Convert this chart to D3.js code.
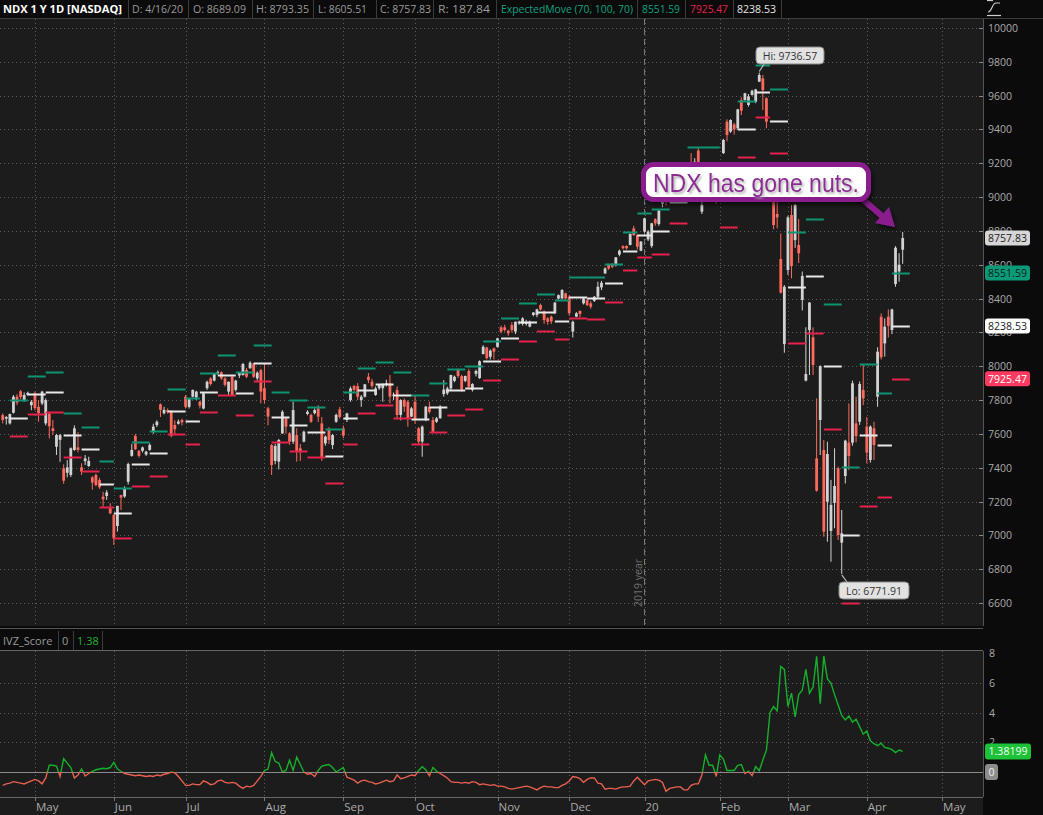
<!DOCTYPE html>
<html>
<head>
<meta charset="utf-8">
<script src="https://cdn.jsdelivr.net/npm/d3@7"></script>
<style>
body { margin: 0; background: #0b0b0b; }
svg { display: block; }
</style>
</head>
<body>
<div id="container"></div>
<script>
// daily NDX bars, Apr 17 2019 .. Apr 16 2020 : [open, high, low, close]
var ohlc = [
[7711,7721,7662,7682],[7690,7705,7655,7700],[7662,7720,7655,7717],[7725,7830,7720,7820],[7820,7835,7770,7785],
[7852,7860,7805,7818],[7800,7845,7790,7830],[7830,7850,7825,7843],[7770,7800,7740,7790],
// May
[7840,7850,7740,7752],[7760,7800,7672,7722],[7780,7855,7770,7850],[7662,7810,7650,7800],[7720,7730,7573,7645],
[7633,7682,7594,7617],[7524,7600,7475,7593],[7565,7600,7435,7593],[7396,7420,7305,7323],[7370,7445,7343,7402],
[7357,7520,7345,7515],[7505,7650,7500,7633],[7520,7610,7490,7505],[7402,7426,7357,7376],[7439,7475,7416,7455],
[7410,7465,7405,7440],[7343,7350,7270,7312],[7357,7365,7290,7298],[7327,7340,7275,7284],[7229,7258,7170,7213],
[7233,7268,7210,7254],[7160,7190,7125,7130],
// Jun
[7120,7125,6943,6982],[7055,7175,7022,7174],[7238,7240,7150,7223],[7230,7290,7222,7278],[7317,7430,7300,7422],
[7470,7540,7465,7505],[7588,7600,7505,7509],[7500,7505,7460,7470],[7500,7525,7490,7520],[7478,7500,7470,7495],
[7505,7545,7500,7535],[7613,7660,7600,7643],[7652,7680,7640,7672],[7775,7780,7700,7742],[7722,7760,7715,7742],
[7740,7750,7720,7730],[7731,7740,7580,7588],[7653,7680,7600,7627],[7660,7685,7655,7673],[7682,7690,7650,7668],
// Jul
[7820,7830,7750,7760],[7760,7810,7750,7805],[7820,7862,7815,7860],[7815,7855,7800,7850],[7790,7795,7750,7767],
[7750,7845,7745,7840],[7870,7915,7860,7908],[7928,7935,7885,7895],[7915,7960,7910,7955],[7960,7975,7950,7965],
[7964,7970,7920,7928],[7928,7935,7880,7890],[7850,7910,7830,7908],[7938,7945,7825,7830],[7860,7920,7850,7915],
[7945,7965,7930,7960],[7948,8020,7945,8013],[7978,7990,7930,7938],[7988,8030,7985,8021],[8017,8020,7930,7938],
[7928,7970,7915,7962],[7977,7985,7780,7850],
// Aug
[7870,8017,7780,7800],[7751,7760,7650,7702],[7534,7540,7357,7416],[7440,7540,7420,7528],[7436,7570,7390,7564],
[7603,7740,7600,7731],[7692,7700,7600,7643],[7603,7610,7535,7554],[7554,7790,7540,7741],[7593,7633,7436,7495],
[7515,7540,7440,7495],[7554,7620,7550,7613],[7718,7740,7710,7731],[7712,7720,7665,7672],[7722,7750,7715,7741],
[7751,7770,7670,7702],[7662,7700,7440,7456],[7544,7590,7530,7584],[7623,7640,7540,7564],[7534,7600,7510,7593],
[7672,7720,7665,7712],[7745,7760,7690,7700],
// Sep
[7633,7650,7575,7590],[7682,7725,7670,7721],[7800,7880,7790,7869],[7883,7890,7850,7860],[7883,7900,7800,7820],
[7800,7830,7760,7820],[7820,7895,7815,7893],[7938,7960,7900,7918],[7909,7925,7870,7883],[7830,7880,7825,7869],
[7870,7895,7860,7889],[7870,7900,7790,7893],[7890,7920,7880,7900],[7899,7948,7780,7820],[7826,7845,7800,7832],
[7859,7880,7690,7712],[7712,7805,7680,7800],[7800,7810,7730,7761],[7790,7800,7643,7692],[7702,7760,7700,7751],
// Oct
[7790,7830,7660,7682],[7633,7640,7540,7554],[7554,7650,7465,7643],[7682,7765,7675,7761],[7760,7790,7720,7730],
[7682,7700,7610,7613],[7672,7700,7665,7692],[7692,7770,7690,7761],[7835,7918,7820,7862],[7840,7880,7830,7869],
[7869,7950,7860,7948],[7913,7945,7905,7938],[7978,7985,7930,7942],[7942,7950,7850,7863],[7913,7945,7905,7942],
[7972,7985,7870,7879],[7860,7900,7850,7895],[7955,7980,7940,7972],[7930,8035,7925,8030],[8072,8125,8070,8115],
[8111,8115,8040,8047],[8056,8100,8040,8092],[8106,8110,8040,8086],
// Nov
[8115,8168,8110,8165],[8230,8240,8195,8205],[8230,8245,8205,8214],[8210,8215,8180,8195],[8244,8260,8200,8214],
[8205,8265,8190,8263],[8254,8270,8245,8263],[8250,8290,8240,8283],[8250,8275,8240,8263],[8234,8270,8230,8263],
[8303,8320,8295,8318],[8303,8340,8290,8336],[8362,8370,8330,8336],[8323,8330,8250,8273],[8283,8290,8245,8263],
[8293,8300,8250,8265],[8313,8380,8310,8376],[8400,8425,8395,8420],[8401,8455,8395,8451],[8431,8435,8395,8401],
// Dec
[8411,8420,8300,8313],[8205,8270,8170,8263],[8293,8320,8290,8313],[8327,8330,8290,8309],[8372,8405,8365,8401],
[8391,8400,8355,8362],[8372,8385,8340,8352],[8387,8415,8380,8411],[8411,8500,8400,8470],[8466,8505,8450,8494],
[8549,8585,8545,8578],[8598,8605,8570,8578],[8598,8610,8580,8588],[8598,8646,8590,8644],[8660,8690,8650,8683],
[8710,8715,8690,8698],[8711,8715,8690,8697],[8717,8785,8715,8782],[8815,8830,8770,8776],[8776,8780,8690,8707],
[8683,8740,8680,8737],
// Jan
[8796,8878,8790,8875],[8750,8805,8740,8796],[8711,8848,8700,8845],[8869,8875,8830,8845],[8841,8925,8830,8920],
[8960,9010,8940,8990],[9010,9020,8950,8970],[8990,9072,8980,9070],[9050,9060,9000,9020],[9020,9070,9010,9040],
[9090,9135,9070,9130],[9150,9175,9130,9170],[9140,9190,9130,9165],[9200,9260,9160,9170],[9160,9230,9110,9210],
[9275,9290,9060,9190],[8914,8990,8900,8953],[8990,9110,8980,9100],[9130,9150,9070,9090],[9020,9140,9000,9130],
[9160,9180,8960,8990],
// Feb
[9040,9170,9020,9130],[9260,9345,9255,9338],[9446,9460,9330,9367],[9387,9460,9380,9456],[9430,9440,9370,9400],
[9407,9522,9400,9519],[9574,9590,9485,9511],[9574,9617,9570,9614],[9545,9610,9535,9596],[9604,9635,9600,9629],
[9564,9640,9555,9637],[9683,9736.57,9680,9722],[9702,9722,9515,9633],[9584,9590,9407,9446],[9180,9190,9030,9080],
[9150,9160,8810,8835],[8900,8990,8815,8880],[8634,8785,8430,8435],[8131,8480,8080,8470],
// Mar
[8569,8890,8540,8880],[8894,8953,8520,8592],[8746,8960,8700,8953],[8717,8870,8610,8668],[8392,8560,8330,8534],
[7915,8230,7910,7954],[8214,8380,7948,8376],[8171,8230,7948,8007],[7455,7810,7258,7264],[7682,8005,7475,8001],
[7505,7564,6992,7022],[7199,7554,6962,7481],[7026,7328,6844,7180],[7193,7515,7042,7292],[7396,7406,6973,7002],
[6957,7150,6771.91,7012],[7351,7565,7307,7560],[7548,7780,7386,7469],[7548,7915,7530,7899],[7662,7820,7550,7587],
[7672,7910,7653,7895],[7860,8007,7770,7810],
// Apr
[7643,7700,7426,7489],[7446,7650,7430,7643],[7633,7672,7446,7534],[7820,8112,7760,8086],[8293,8313,8040,8053],
[8135,8283,8057,8234],[8293,8336,8170,8238.53],[8214,8340,8190,8336],[8486,8710,8470,8701],[8560,8668,8500,8600],
[8689.09,8793.35,8605.51,8757.83]
];

// ExpectedMove (70, 100, 70), one value per week starting with the week of Apr 22 2019
var emUpper = [7800,7942,7964,7721,7639,7440,7280,7552,7615,7863,7810,7958,8068,7964,8125,7846,7800,7757,7627,7850,
  7988,8023,7964,7830,7899,7984,8001,8151,8283,8372,8425,8392,8528,8528,8604,8793,8904,8929,9095,9298,
  9294,9158,9568,9781,9637,8794,8870,8368,7404,8013,7842,8551.59];
var emMid = [7692,7834,7846,7591,7509,7302,7130,7420,7485,7733,7676,7846,7950,7840,8017,7698,7653,7613,7469,7692,
  7860,7893,7830,7686,7761,7862,7869,8031,8165,8260,8319,8265,8407,8401,8490,8681,8776,8800,8969,9170,
  9190,8990,9401,9623,9450,8468,8533,8000,7002,7593,7534,8238.53];
var emLower = [7588,7718,7731,7461,7379,7168,6982,7290,7349,7599,7538,7727,7830,7712,7911,7550,7499,7461,7308,7538,
  7722,7771,7692,7538,7613,7712,7745,7919,8043,8149,8208,8159,8283,8277,8378,8569,8646,8662,8845,9042,
  9086,8821,9235,9472,9259,8137,8197,7629,6600,7174,7227,7925.47];

// IVZ_Score study
var ivz = [
-0.9,-0.8,-0.75,-0.65,-0.7,-0.75,-0.8,-0.7,-0.6,-0.5,
-0.6,-0.8,-0.4,0.45,0.45,0.4,-0.3,0.9,0.6,0.3,
-0.4,-0.2,0.2,-0.27,-0.1,0.05,0.15,0.2,0.25,0.22,
0.3,0.65,0.2,0.05,-0.1,-0.15,-0.2,-0.25,-0.2,-0.25,
-0.3,-0.25,-0.3,-0.2,-0.25,-0.15,-0.1,0.0,-0.05,-0.3,
-0.6,-0.9,-0.9,-0.8,-0.85,-0.85,-0.6,-0.7,-0.85,-0.8,
-0.6,-0.55,-0.7,-0.75,-0.7,-0.75,-0.95,-1.1,-0.95,-1.0,
-0.9,-0.6,-0.3,0.1,0.2,1.3,0.7,0.6,0.0,0.1,
0.8,0.1,1.0,0.5,0.0,-0.15,-0.1,-0.3,0.1,0.4,
0.45,0.5,0.3,0.0,0.15,0.3,-0.35,-0.45,-0.55,-0.75,
-0.6,-0.55,-0.65,-0.7,-0.8,-0.75,-0.65,-0.55,-0.65,-0.6,
-0.2,-0.45,-0.4,-0.3,-0.2,-0.25,0.1,0.35,0.15,-0.25,
0.3,0.05,-0.1,-0.25,-0.4,-0.65,-0.7,-0.7,-0.75,-0.7,
-0.75,-0.65,-0.7,-0.85,-0.8,-0.85,-0.9,-0.85,-0.95,-0.95,
-1.0,-1.1,-1.15,-1.1,-1.05,-1.0,-0.95,-1.0,-1.1,-1.2,
-1.05,-0.95,-1.0,-1.0,-1.05,-1.05,-0.9,-0.8,-0.6,-0.3,
-0.35,-0.45,-0.7,-0.5,-0.4,-0.4,-0.75,-0.8,-1.15,-1.1,
-1.1,-1.15,-1.05,-1.0,-1.0,-0.95,-0.6,-0.35,-0.6,-0.85,
-0.6,-0.55,-0.5,-0.55,-0.7,-1.3,-1.1,-1.05,-1.0,-1.0,
-1.2,-1.2,-0.9,-0.8,-0.8,-0.2,1.15,0.45,0.45,-0.3,
1.15,0.85,0.1,0.1,0.1,0.45,0.5,-0.1,0.05,-0.25,
0.36,0.08,0.8,1.47,4.0,4.4,4.1,7.1,6.9,4.4,
5.3,3.7,5.2,5.5,6.9,5.3,5.7,7.77,4.6,7.8,
6.26,5.97,5.2,4.5,3.8,3.5,3.77,3.35,3.55,3.05,
2.54,2.76,2.1,1.9,1.77,1.93,1.65,1.6,1.5,1.3,
1.48,1.38];

var holidays = ["2019-04-19","2019-05-27","2019-07-04","2019-09-02","2019-11-28","2019-12-25",
  "2020-01-01","2020-01-20","2020-02-17","2020-04-10","2020-05-25"];
var monthLabels = ["May","Jun","Jul","Aug","Sep","Oct","Nov","Dec","20","Feb","Mar","Apr","May"];
var priceTicks = [6600,6800,7000,7200,7400,7600,7800,8000,8200,8400,8600,8800,9000,9200,9400,9600,9800,10000];
var ivzTicks = [2,4,6,8];
var headerTexts = ["NDX 1 Y 1D [NASDAQ]","D: 4/16/20","O: 8689.09","H: 8793.35","L: 8605.51","C: 8757.83","R: 187.84",
  "ExpectedMove (70, 100, 70)","8551.59","7925.47","8238.53"];
var priceTags = [8757.83, 8551.59, 8238.53, 7925.47];

var width = 1043,
    height = 815,
    plotRight = 983,
    mainTop = 19,
    mainBottom = 626,
    ivzTop = 651,
    ivzBottom = 797

var upColor = "#d2d2d2",
    downColor = "#ff6a5c",
    greenEM = "#0e9474",
    redEM = "#e5224b",
    whiteEM = "#e8e8e8",
    gridColor = "#5c5c5c",
    textColor = "#aaaaaa"

// trading calendar (weekdays minus exchange holidays)
var fmt = d3.utcFormat("%Y-%m-%d");
var days = [];
d3.utcDays(new Date(Date.UTC(2019, 3, 17)), new Date(Date.UTC(2020, 5, 1))).forEach(function (d) {
    var wd = d.getUTCDay();
    if (wd === 0 || wd === 6) return;
    if (holidays.indexOf(fmt(d)) >= 0) return;
    days.push(d);
});

var monthStarts = [], weekStarts = [];
days.forEach(function (d, i) {
    if (i > 0 && d.getUTCMonth() !== days[i - 1].getUTCMonth()) monthStarts.push(i);
    if (i === 0 || +d3.utcMonday.floor(d) !== +d3.utcMonday.floor(days[i - 1])) weekStarts.push(i);
});

var x = d3.scaleLinear().domain([-0.75, 273.4]).range([0, plotRight]);
var y = d3.scaleLinear().domain([6600, 10000]).range([603, 28]);
var yi = d3.scaleLinear().domain([0, 8]).range([772, 653]);

var svg = d3.select("div#container").append("svg")
    .attr("width", width)
    .attr("height", height)
    .style("font-family", "'Open Sans', 'DejaVu Sans', sans-serif");

var defs = svg.append("defs");
defs.append("clipPath").attr("id", "mainClip").append("rect")
    .attr("x", 0).attr("y", mainTop).attr("width", plotRight).attr("height", mainBottom - mainTop);
defs.append("clipPath").attr("id", "posClip").append("rect")
    .attr("x", 0).attr("y", ivzTop).attr("width", plotRight).attr("height", yi(0) - ivzTop);
defs.append("clipPath").attr("id", "negClip").append("rect")
    .attr("x", 0).attr("y", yi(0)).attr("width", plotRight).attr("height", ivzBottom - yi(0));
var shadow = defs.append("filter").attr("id", "shadow").attr("x", "-20%").attr("y", "-40%").attr("width", "140%").attr("height", "180%");
shadow.append("feDropShadow").attr("dx", 2).attr("dy", 3).attr("stdDeviation", 2).attr("flood-color", "#000").attr("flood-opacity", 0.6);
var tshadow = defs.append("filter").attr("id", "tshadow");
tshadow.append("feDropShadow").attr("dx", 1.5).attr("dy", 2).attr("stdDeviation", 1.2).attr("flood-color", "#999").attr("flood-opacity", 0.8);

// backgrounds
svg.append("rect").attr("width", width).attr("height", height).attr("fill", "#0b0b0b");
svg.append("rect").attr("x", 0).attr("y", mainTop).attr("width", plotRight).attr("height", mainBottom - mainTop).attr("fill", "#1c1c1c");
svg.append("rect").attr("x", 0).attr("y", ivzTop).attr("width", plotRight).attr("height", height - ivzTop).attr("fill", "#1c1c1c");

// grid
var grid = svg.append("g").attr("stroke", gridColor).attr("stroke-dasharray", "1,3").attr("stroke-width", 1);
grid.selectAll(".hg").data(priceTicks).enter().append("line")
    .attr("x1", 0).attr("x2", plotRight)
    .attr("y1", function (d) { return Math.round(y(d)) + 0.5; })
    .attr("y2", function (d) { return Math.round(y(d)) + 0.5; });
grid.selectAll(".vg").data(monthStarts.slice(0, monthLabels.length)).enter().append("line")
    .attr("x1", function (d) { return Math.round(x(d)) + 0.5; })
    .attr("x2", function (d) { return Math.round(x(d)) + 0.5; })
    .attr("y1", mainTop).attr("y2", mainBottom);
grid.selectAll(".ig").data(ivzTicks.slice(0, 3)).enter().append("line")
    .attr("x1", 0).attr("x2", plotRight)
    .attr("y1", function (d) { return Math.round(yi(d)) + 0.5; })
    .attr("y2", function (d) { return Math.round(yi(d)) + 0.5; });
grid.selectAll(".ivg").data(monthStarts.slice(0, monthLabels.length)).enter().append("line")
    .attr("x1", function (d) { return Math.round(x(d)) + 0.5; })
    .attr("x2", function (d) { return Math.round(x(d)) + 0.5; })
    .attr("y1", ivzTop).attr("y2", ivzBottom);

// year divider
var yearX = Math.round(x(monthStarts[8])) - 0.5;
svg.append("line").attr("x1", yearX).attr("x2", yearX).attr("y1", mainTop).attr("y2", mainBottom)
    .attr("stroke", "#7a7a7a").attr("stroke-dasharray", "6,4");
svg.append("text").attr("transform", "translate(" + (yearX - 3) + ",607) rotate(-90)")
    .attr("fill", "#6e6e6e").style("font-size", "10.5px").text("2019 year");

var main = svg.append("g").attr("clip-path", "url(#mainClip)");

// candles
function candleColor(d) { return d[3] >= d[0] ? upColor : downColor; }
var candle = main.selectAll(".candle")
    .data(ohlc)
    .enter().append("g")
    .attr("class", "candle");
candle.append("line")
    .attr("x1", function (d, i) { return x(i); })
    .attr("x2", function (d, i) { return x(i); })
    .attr("y1", function (d) { return y(d[1]); })
    .attr("y2", function (d) { return y(d[2]); })
    .attr("stroke", candleColor)
    .attr("stroke-width", 1);
candle.append("rect")
    .attr("x", function (d, i) { return x(i) - 1.4; })
    .attr("width", 2.8)
    .attr("y", function (d) { return y(Math.max(d[0], d[3])); })
    .attr("height", function (d) { return Math.max(1, Math.abs(y(d[0]) - y(d[3]))); })
    .attr("fill", candleColor);

// expected move weekly segments
var emRows = emMid.map(function (m, k) {
    return { start: weekStarts[k + 1], end: weekStarts[k + 2], up: emUpper[k], mid: m, dn: emLower[k] };
});
[["up", greenEM], ["dn", redEM], ["mid", whiteEM]].forEach(function (s) {
    main.selectAll(".em-" + s[0])
        .data(emRows)
        .enter().append("line")
        .attr("x1", function (d) { return x(d.start); })
        .attr("x2", function (d) { return x(d.end); })
        .attr("y1", function (d) { return Math.round(y(d[s[0]])) + 0.5; })
        .attr("y2", function (d) { return Math.round(y(d[s[0]])) + 0.5; })
        .attr("stroke", s[1])
        .attr("stroke-width", 2);
});

// Hi / Lo bubbles
function flag(label, cx, cy, bx, by, bw) {
    var g = svg.append("g");
    g.append("line").attr("x1", cx).attr("y1", cy).attr("x2", bx + 8).attr("y2", by + (by > cy ? 0 : 17))
        .attr("stroke", "#bbbbbb").attr("stroke-width", 1.2);
    g.append("rect").attr("x", bx).attr("y", by).attr("width", bw).attr("height", 17).attr("rx", 4)
        .attr("fill", "#e2e2e2").attr("stroke", "#8a8a8a");
    g.append("text").attr("x", bx + bw / 2).attr("y", by + 12.5).attr("text-anchor", "middle")
        .attr("fill", "#333").style("font-size", "10.5px").text(label);
}
var hiIdx = d3.maxIndex(ohlc, function (d) { return d[1]; });
var loIdx = d3.minIndex(ohlc, function (d) { return d[2]; });
flag("Hi: " + d3.format(".2f")(ohlc[hiIdx][1]), x(hiIdx), y(ohlc[hiIdx][1]) - 1, 756, 47, 68);
flag("Lo: " + d3.format(".2f")(ohlc[loIdx][2]), x(loIdx), y(ohlc[loIdx][2]) + 1, 839, 582, 70);

// right price axis
svg.append("rect").attr("x", plotRight).attr("y", 0).attr("width", width - plotRight).attr("height", height).attr("fill", "#0b0b0b");
svg.append("line").attr("x1", plotRight + 0.5).attr("x2", plotRight + 0.5).attr("y1", mainTop).attr("y2", ivzBottom)
    .attr("stroke", "#555");
var yAxis = svg.append("g");
yAxis.selectAll("text").data(priceTicks).enter().append("text")
    .attr("x", 988).attr("y", function (d) { return y(d) + 4; })
    .attr("fill", textColor).style("font-size", "10.5px")
    .text(function (d) { return d; });
yAxis.selectAll("line").data(priceTicks).enter().append("line")
    .attr("x1", plotRight - 4).attr("x2", plotRight)
    .attr("y1", function (d) { return Math.round(y(d)) + 0.5; })
    .attr("y2", function (d) { return Math.round(y(d)) + 0.5; })
    .attr("stroke", "#888");

var tagStyles = [["#d6d6d6", "#222"], ["#0b9a78", "#0c1f1a"], ["#ffffff", "#222"], ["#ff3a60", "#fff"]];
priceTags.forEach(function (v, k) {
    var ty = y(v);
    svg.append("rect").attr("x", 985).attr("y", ty - 7.5).attr("width", 45).attr("height", 15).attr("rx", 3)
        .attr("fill", tagStyles[k][0]);
    svg.append("text").attr("x", 1007.5).attr("y", ty + 4).attr("text-anchor", "middle")
        .attr("fill", tagStyles[k][1]).style("font-size", "10.5px").text(d3.format(".2f")(v));
});

// callout
var note = svg.append("g");
note.append("line").attr("x1", 852).attr("y1", 190).attr("x2", 882).attr("y2", 216)
    .attr("stroke", "#8a1f8e").attr("stroke-width", 6).attr("filter", "url(#shadow)");
note.append("path").attr("d", "M895,227 L875,223 L889,207 Z").attr("fill", "#8a1f8e").attr("filter", "url(#shadow)");
note.append("rect").attr("x", 643.5).attr("y", 164.5).attr("width", 225).attr("height", 35).attr("rx", 10)
    .attr("fill", "#ffffff").attr("stroke", "#8a1f8e").attr("stroke-width", 5).attr("filter", "url(#shadow)");
note.append("text").attr("x", 653).attr("y", 192).attr("fill", "#8e2a94")
    .style("font-family", "'Liberation Sans', Arial, sans-serif").style("font-size", "25px")
    .attr("textLength", 206).attr("lengthAdjust", "spacingAndGlyphs")
    .attr("filter", "url(#tshadow)")
    .text("NDX has gone nuts.");

// header
svg.append("rect").attr("x", 0).attr("y", 0).attr("width", width).attr("height", 18).attr("fill", "#0b0b0b");
svg.append("line").attr("x1", 0).attr("x2", width).attr("y1", 18.5).attr("y2", 18.5).attr("stroke", "#3c3c3c");
var headerX = [3, 132, 193, 256, 318, 380, 438, 501, 642, 690, 737];
var headerW = [119, 51, 53, 53, 49, 51, 52, 132, 38, 38, 39];
var headerSep = [128, 188, 252, 313, 376, 433, 496, 637, 685, 733, 781];
var headerColor = ["#ffffff", "#9a9a9a", "#9a9a9a", "#9a9a9a", "#9a9a9a", "#9a9a9a", "#9a9a9a", "#12a182", "#12a182", "#e5224b", "#e6e6e6"];
headerTexts.forEach(function (t, k) {
    svg.append("text").attr("x", headerX[k]).attr("y", 13).attr("fill", headerColor[k])
        .style("font-size", "11px").style("font-weight", k === 0 ? "700" : "400")
        .attr("textLength", headerW[k]).attr("lengthAdjust", "spacingAndGlyphs")
        .text(t);
});
headerSep.forEach(function (s) {
    svg.append("line").attr("x1", s + 0.5).attr("x2", s + 0.5).attr("y1", 0).attr("y2", 18).attr("stroke", "#3c3c3c");
});
var icon = svg.append("g").attr("stroke", "#cfcfcf").attr("fill", "none").attr("stroke-width", 1.2);
icon.append("path").attr("d", "M988,12 C992,12 992,3 996,3 L1000,3");
icon.append("line").attr("x1", 987).attr("x2", 1001).attr("y1", 15.5).attr("y2", 15.5);
icon.append("line").attr("x1", 987).attr("x2", 993).attr("y1", 0.5).attr("y2", 0.5);

// IVZ panel
svg.append("rect").attr("x", 0).attr("y", mainBottom).attr("width", width).attr("height", ivzTop - mainBottom).attr("fill", "#0b0b0b");
svg.append("line").attr("x1", 0).attr("x2", plotRight).attr("y1", mainBottom + 2.5).attr("y2", mainBottom + 2.5).attr("stroke", "#555");
svg.append("line").attr("x1", 0).attr("x2", plotRight).attr("y1", ivzTop - 0.5).attr("y2", ivzTop - 0.5).attr("stroke", "#666");
svg.append("text").attr("x", 3).attr("y", 645).attr("fill", "#9a9a9a").style("font-size", "11px").text("IVZ_Score");
svg.append("text").attr("x", 62).attr("y", 645).attr("fill", "#9a9a9a").style("font-size", "11px").text("0");
svg.append("text").attr("x", 77).attr("y", 645).attr("fill", "#1db32e").style("font-size", "11px").text(d3.format(".2f")(ivz[ivz.length - 1]));
[58, 73, 102].forEach(function (s) {
    svg.append("line").attr("x1", s + 0.5).attr("x2", s + 0.5).attr("y1", 631).attr("y2", 650).attr("stroke", "#3c3c3c");
});

svg.append("line").attr("x1", 0).attr("x2", plotRight).attr("y1", Math.round(yi(0)) + 0.5).attr("y2", Math.round(yi(0)) + 0.5)
    .attr("stroke", "#8a8a8a").attr("stroke-width", 1);

var ivzLine = d3.line()
    .x(function (d, i) { return x(i); })
    .y(function (d) { return yi(d); });
svg.append("path").datum(ivz).attr("d", ivzLine).attr("fill", "none")
    .attr("stroke", "#16b02a").attr("stroke-width", 1.4).attr("clip-path", "url(#posClip)");
svg.append("path").datum(ivz).attr("d", ivzLine).attr("fill", "none")
    .attr("stroke", "#e8604f").attr("stroke-width", 1.4).attr("clip-path", "url(#negClip)");

svg.selectAll(".ivt").data(ivzTicks).enter().append("text")
    .attr("x", 989).attr("y", function (d) { return yi(d) + 4; })
    .attr("fill", textColor).style("font-size", "10.5px")
    .text(function (d) { return d; });

var lastIvz = ivz[ivz.length - 1];
svg.append("rect").attr("x", 985).attr("y", yi(lastIvz) - 8).attr("width", 46).attr("height", 16).attr("rx", 3).attr("fill", "#1dc238");
svg.append("text").attr("x", 1008).attr("y", yi(lastIvz) + 4).attr("text-anchor", "middle").attr("fill", "#f4fff4")
    .style("font-size", "10.5px").text("1.38199");
svg.append("rect").attr("x", 985).attr("y", yi(0) - 8).attr("width", 13).attr("height", 16).attr("rx", 3).attr("fill", "#8c8c8c");
svg.append("text").attr("x", 991.5).attr("y", yi(0) + 4).attr("text-anchor", "middle").attr("fill", "#f0f0f0")
    .style("font-size", "10.5px").text("0");

// time axis
svg.append("line").attr("x1", 0).attr("x2", plotRight).attr("y1", ivzBottom + 0.5).attr("y2", ivzBottom + 0.5).attr("stroke", "#666");
var xAxis = svg.append("g");
xAxis.selectAll("text").data(monthLabels).enter().append("text")
    .attr("x", function (d, k) { return x(monthStarts[k]) + 1; })
    .attr("y", 811)
    .attr("fill", textColor).style("font-size", "11.5px")
    .text(function (d) { return d; });
xAxis.selectAll("line").data(monthLabels).enter().append("line")
    .attr("x1", function (d, k) { return Math.round(x(monthStarts[k])) + 0.5; })
    .attr("x2", function (d, k) { return Math.round(x(monthStarts[k])) + 0.5; })
    .attr("y1", ivzBottom).attr("y2", ivzBottom + 4)
    .attr("stroke", "#777");
</script>
</body>
</html>
